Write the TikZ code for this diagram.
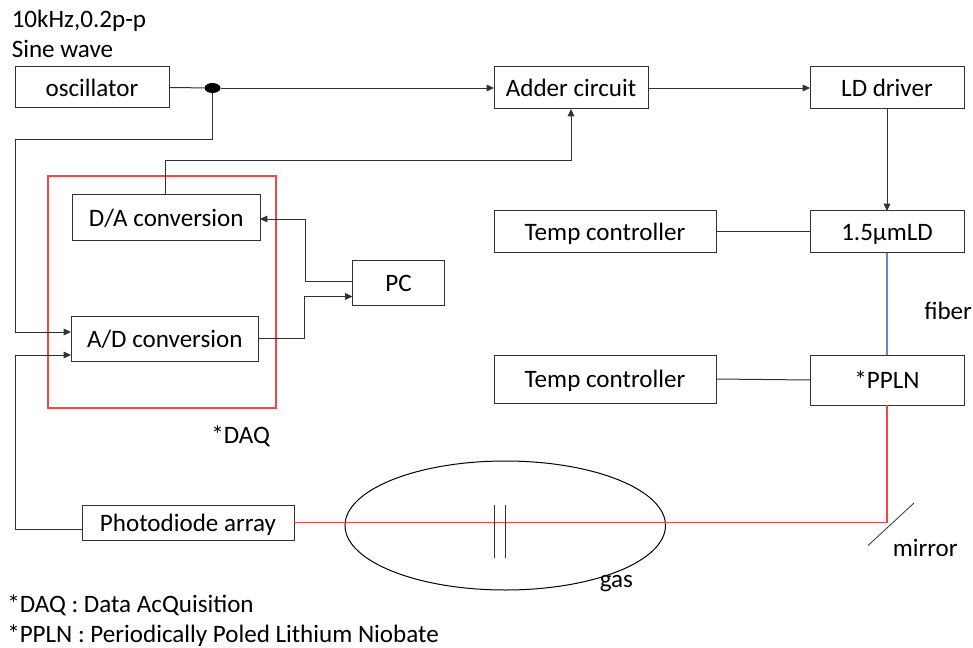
\documentclass[tikz,border=0pt]{standalone}
\usepackage{fontspec}
\setmainfont{Carlito}
\usetikzlibrary{shapes.geometric,arrows.meta,calc}
\definecolor{ln}{RGB}{50,50,50}
\definecolor{rd}{RGB}{245,70,70}
\definecolor{fb}{RGB}{91,140,190}
\def\px{0.75pt}

\begin{document}
\begin{tikzpicture}[
    x=0.75pt,y=-0.75pt,
    blk/.style={rectangle,draw=ln,line width=0.75pt,inner sep=0pt,outer sep=0pt,text height=16pt,text depth=3pt,font=\fontsize{18.8}{22}\selectfont},
    lbl/.style={inner sep=0pt,anchor=base west,font=\fontsize{18.8}{22}\selectfont},
    arr/.style={-{Triangle[length=5.5pt,width=5pt]},line width=0.6pt,draw=ln},
    con/.style={line width=0.75pt,draw=ln},
    beam/.style={line width=1pt,draw=rd},
]
\useasboundingbox (0,0) rectangle (973,648);

\node[blk,minimum width=154*\px,minimum height=41*\px] (osc) at (92,87.5) {oscillator};
\node[blk,minimum width=154*\px,minimum height=42*\px] (adder) at (571,88) {Adder circuit};
\node[blk,minimum width=154*\px,minimum height=42*\px] (drv) at (887,88) {LD driver};

\node[blk,minimum width=222*\px,minimum height=42*\px] (temp1) at (605,232) {Temp controller};
\node[blk,minimum width=154*\px,minimum height=42*\px] (ld) at (887,232) {1.5µmLD};
\node[blk,minimum width=222*\px,minimum height=48*\px] (temp2) at (605,379) {Temp controller};
\node[blk,minimum width=154*\px,minimum height=50*\px] (ppln) at (887,380) {*PPLN};

\node[rectangle,draw=rd,line width=1.15pt,inner sep=0pt,outer sep=0pt,minimum width=228*\px,minimum height=232*\px] (daq) at (162,292) {};
\node[blk,minimum width=187.5*\px,minimum height=46*\px] (da) at (166.25,218) {D/A conversion};
\node[blk,minimum width=187.5*\px,minimum height=45*\px] (ad) at (164.75,338.5) {A/D conversion};
\node[blk,minimum width=92*\px,minimum height=45*\px] (pc) at (398.5,283) {PC};

\node[blk,minimum width=212*\px,minimum height=35*\px] (pd) at (188,522.5) {Photodiode array};
\node[ellipse,draw=black,line width=0.75pt,inner sep=0pt,outer sep=0pt,minimum width=320.5*\px,minimum height=129*\px] (cell) at (505.25,525.5) {};
\node[ellipse,fill=black,inner sep=0pt,minimum width=16*\px,minimum height=10*\px] (dot) at (212.5,88) {};

\coordinate (wina) at (494,505);
\coordinate (winb) at (494,558);
\coordinate (winc) at (505.5,505);
\coordinate (wind) at (505.5,558);
\coordinate (mira) at (868,545.5);
\coordinate (mirb) at (914,503);
\coordinate (bend) at (887,522.5);

\draw[con] (osc.east) -- (dot);
\draw[arr] (dot) -- (adder.west);
\draw[arr] (adder.east) -- (drv.west);
\draw[arr] (drv) -- (ld);
\draw[con] (temp1) -- (ld);
\draw[con] (temp2.east) -- (ppln.west);
\draw[line width=0.9pt,draw=fb] (ld) -- (ppln);

\draw[arr] (dot) -- (212.5,139) -- (15.5,139) -- (15.5,332) -- ($(ad.west)+(0,-6.5)$);
\draw[arr] (pd.west |- 0,529) -- (15.5,529) -- (15.5,355) -- ($(ad.west)+(0,16.5)$);
\draw[arr] (165,195) -- (165,160.5) -- (571,160.5) -- (adder.south);
\draw[arr] (pc.west |- 0,281.5) -- (305.5,281.5) -- (305.5,219) -- (da.east |- 0,219);
\draw[arr] (ad.east) -- (304,338.5) -- (304,296.5) -- (pc.west |- 0,296.5);

\draw[beam] (ppln.south) -- (bend) -- (pd.east |- bend);
\draw[line width=0.6pt,draw=ln] (wina) -- (winb);
\draw[line width=0.6pt,draw=ln] (winc) -- (wind);
\draw[line width=0.6pt,draw=ln] (mira) -- (mirb);

\node[lbl] (freq) at (11.5,28) {10kHz,0.2p-p};
\node[lbl] (sine) at (11.5,58) {Sine wave};
\node[lbl] (daqtxt) at (211,443) {*DAQ};
\node[lbl] (fiber) at (924,320) {fiber};
\node[lbl] (gas) at (599.5,587) {gas};
\node[lbl] (mirror) at (892.5,556) {mirror};
\node[lbl] (note1) at (7,612) {*DAQ : Data AcQuisition};
\node[lbl] (note2) at (7,642) {*PPLN : Periodically Poled Lithium Niobate};
\end{tikzpicture}
\end{document}
